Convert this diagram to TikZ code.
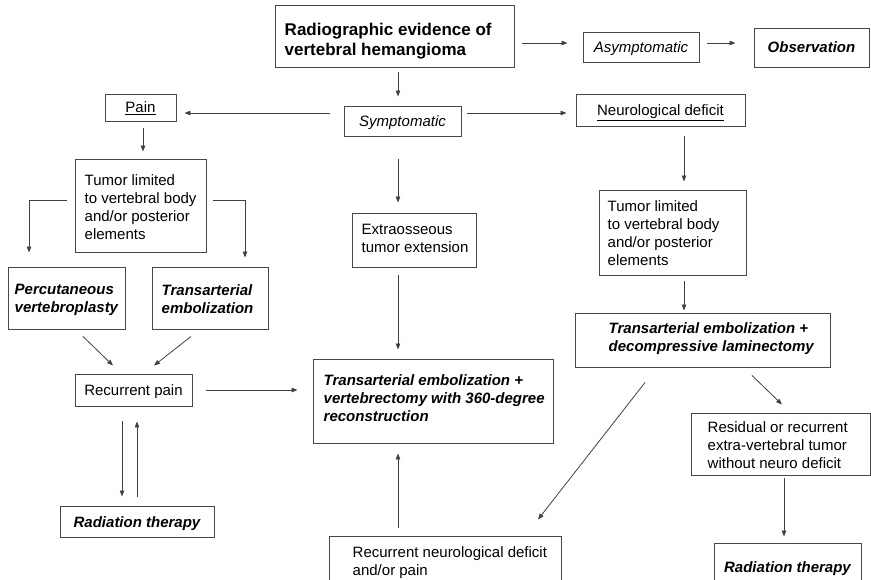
\documentclass[tikz,border=0pt]{standalone}
\usepackage{fontspec}
\setmainfont{Liberation Sans}
\usetikzlibrary{arrows.meta}
\begin{document}
\begin{tikzpicture}[x=1pt,y=-1pt,
  box/.style={draw=black!72, line width=0.95pt, inner sep=0pt, font=\fontsize{15}{18}\selectfont},
  one/.style={text height=11pt, text depth=0pt},
  txt/.style={inner sep=0pt, align=left, anchor=west, font=\fontsize{15}{18}\selectfont},
  bi/.style={font=\fontsize{15}{18}\selectfont\bfseries\itshape},
  it/.style={font=\fontsize{15}{18}\selectfont\itshape},
  arr/.style={draw=black!75, line width=0.8pt, -{Triangle[length=6pt,width=4.5pt]}}]
\useasboundingbox (0,0) rectangle (871,580);
\clip (0,0) rectangle (871,580);

% boxes
\node[box, minimum width=239pt, minimum height=62pt] (rad) at (394.5,36) {};
\node[txt, font=\fontsize{17}{20}\selectfont\bfseries] (radt) at ([xshift=10pt,yshift=-5pt]rad.west) {Radiographic evidence of\\vertebral hemangioma};
\node[box, one, it, minimum width=116pt, minimum height=30pt] (asym) at (641,47) {Asymptomatic};
\node[box, one, bi, minimum width=115pt, minimum height=39pt] (obs) at (811.5,47.5) {Observation};
\node[box, one, it, minimum width=117pt, minimum height=30pt] (symp) at (402.5,121) {Symptomatic};
\node[box, one, minimum width=71pt, minimum height=27pt] (pain) at (140.5,107.5) {\underline{Pain}};
\node[box, one, minimum width=169pt, minimum height=32pt] (neuro) at (660.5,110) {\underline{Neurological deficit}};

\node[box, minimum width=131pt, minimum height=93pt] (tumL) at (140.5,205.5) {};
\node[txt] (tumLt) at ([xshift=10pt,yshift=-2pt]tumL.west) {Tumor limited\\to vertebral body\\and/or posterior\\elements};
\node[box, minimum width=117pt, minimum height=62pt] (perc) at (66.5,298) {};
\node[txt, bi] (perct) at ([xshift=7pt,yshift=-1.5pt]perc.west) {Percutaneous\\vertebroplasty};
\node[box, minimum width=116pt, minimum height=62pt] (transE) at (210,298) {};
\node[txt, bi] (transEt) at ([xshift=10pt,yshift=-1.5pt]transE.west) {Transarterial\\embolization};
\node[box, one, minimum width=117pt, minimum height=32pt] (recP) at (133.5,390) {Recurrent pain};
\node[box, one, bi, minimum width=154pt, minimum height=31pt] (radL) at (137,521.5) {Radiation therapy};

\node[box, minimum width=124pt, minimum height=54pt] (extra) at (414,240) {};
\node[txt] (extrat) at ([xshift=10pt,yshift=2pt]extra.west) {Extraosseous\\tumor extension};
\node[box, minimum width=240pt, minimum height=84pt] (transV) at (433,401) {};
\node[txt, bi] (transVt) at ([xshift=11pt,yshift=3pt]transV.west) {Transarterial embolization +\\vertebrectomy with 360-degree\\reconstruction};
\node[box, minimum width=232pt, minimum height=50pt] (recN) at (445,561) {};
\node[txt] (recNt) at ([xshift=24pt,yshift=-1.5pt]recN.west) {Recurrent neurological deficit\\and/or pain};

\node[box, minimum width=147pt, minimum height=85pt] (tumR) at (672.5,232.5) {};
\node[txt] (tumRt) at ([xshift=9pt,yshift=-1pt]tumR.west) {Tumor limited\\to vertebral body\\and/or posterior\\elements};
\node[box, minimum width=255pt, minimum height=54pt] (transD) at (702.5,340) {};
\node[txt, bi] (transDt) at ([xshift=34pt,yshift=1pt]transD.west) {Transarterial embolization +\\decompressive laminectomy};
\node[box, minimum width=179pt, minimum height=62pt] (resid) at (780.5,444) {};
\node[txt] (residt) at ([xshift=17pt,yshift=-1pt]resid.west) {Residual or recurrent\\extra-vertebral tumor\\without neuro deficit};
\node[box, one, bi, minimum width=147pt, minimum height=48pt] (radR) at (787.5,567) {Radiation therapy};

% connectors
\draw[arr] ([shift={(8,7)}]rad.east) -- ([shift={(-15,-4)}]asym.west);
\draw[arr] ([shift={(8,-4)}]asym.east) -- ([shift={(-18,-4.5)}]obs.west);
\draw[arr] ([shift={(3.5,5)}]rad.south) -- ([shift={(-4.5,-9)}]symp.north);
\draw[arr] ([shift={(-14,-8)}]symp.west) -- ([shift={(8,5.5)}]pain.east);
\draw[arr] ([shift={(6,-8)}]symp.east) -- ([shift={(-9,3)}]neuro.west);
\draw[arr] ([shift={(2.5,7)}]pain.south) -- ([shift={(2.5,-7)}]tumL.north);
\draw[arr] ([shift={(-8,-5.5)}]tumL.west) -| ([shift={(-37.5,-14)}]perc.north);
\draw[arr] ([shift={(7,-5.5)}]tumL.east) -| ([shift={(35,-9)}]transE.north);
\draw[arr] ([shift={(16.5,7)}]perc.south) -- ([shift={(-20.5,-8)}]recP.north);
\draw[arr] ([shift={(-19,7)}]transE.south) -- ([shift={(20.5,-8)}]recP.north);
\draw[arr] ([shift={(14,0)}]recP.east) -- ([shift={(-15,-11)}]transV.west);
\draw[arr] ([shift={(-11.5,15)}]recP.south) -- ([shift={(-15,-9)}]radL.north);
\draw[arr] ([shift={(0,-9)}]radL.north) -- ([shift={(3.5,15)}]recP.south);
\draw[arr] ([shift={(-4.5,23)}]symp.south) -- ([shift={(-16,-10)}]extra.north);
\draw[arr] ([shift={(-16,8)}]extra.south) -- ([shift={(-35,-9)}]transV.north);
\draw[arr] ([shift={(-47,-8)}]recN.north) -- ([shift={(-35,10)}]transV.south);
\draw[arr] ([shift={(23.5,10)}]neuro.south) -- ([shift={(11.5,-8)}]tumR.north);
\draw[arr] ([shift={(11.5,6)}]tumR.south) -- ([shift={(-18.5,-2)}]transD.north);
\draw[arr] ([shift={(49.5,8)}]transD.south) -- ([shift={(1.5,-8)}]resid.north);
\draw[arr] ([shift={(-57.5,15)}]transD.south) -- ([shift={(93,-16)}]recN.north);
\draw[arr] ([shift={(3.5,3)}]resid.south) -- ([shift={(-3.5,-6)}]radR.north);
\end{tikzpicture}
\end{document}
